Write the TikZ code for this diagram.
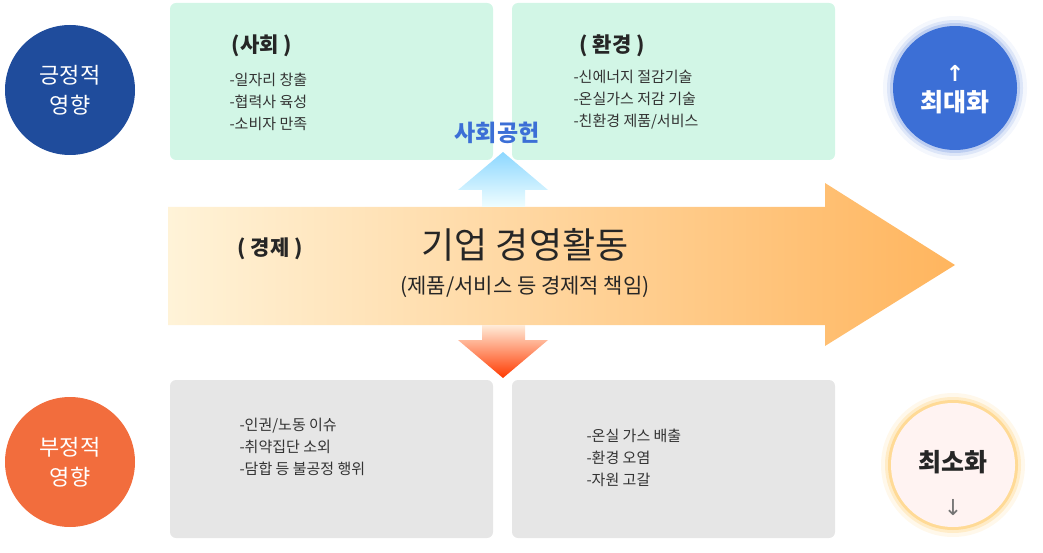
\documentclass[tikz,border=0pt]{standalone}
\usepackage{fontspec}
\setmainfont{Noto Sans CJK KR}
\newfontfamily\sym{DejaVu Sans}
\begin{document}
\begin{tikzpicture}[x=1pt,y=-1pt,
 cbox/.style={rounded corners=6pt},
 bl/.style={anchor=west,font=\fontsize{15}{22}\selectfont,text=black!80,align=left},
 hd/.style={font=\fontsize{21}{24}\selectfont\bfseries,text=black!85}]
\useasboundingbox (0,0) rectangle (1043,553);
\definecolor{dblue}{HTML}{1F4C9C}\definecolor{oran}{HTML}{F26D3D}
\definecolor{mint}{HTML}{D2F6E6}\definecolor{lgray}{HTML}{E6E6E6}
\definecolor{rblue}{HTML}{3C6FD6}\definecolor{ay}{HTML}{FFF3D8}\definecolor{ao}{HTML}{FFB55E}
% left circles
\node[circle,fill=dblue,minimum size=130pt,text=white,align=center,font=\fontsize{22}{30}\selectfont] (pos) at (70,90) {긍정적\\영향};
\node[circle,fill=oran,minimum size=130pt,text=white,align=center,font=\fontsize{22}{30}\selectfont] (neg) at (70,462) {부정적\\영향};
% boxes
\fill[mint,cbox] (170,3) rectangle (493,160);
\fill[mint,cbox] (512,3) rectangle (835,160);
\fill[lgray,cbox] (170,380) rectangle (493,538);
\fill[lgray,cbox] (512,380) rectangle (835,538);
\node[hd] (soc) at (262,46) {(사회 )};
\node[bl] (socl) at (226,102) {-일자리 창출\\-협력사 육성\\-소비자 만족};
\node[hd] (env) at (612,46) {( 환경 )};
\node[bl] (envl) at (570,100) {-신에너지 절감기술\\-온실가스 저감 기술\\-친환경 제품/서비스};
\node[bl] (nl) at (236,447) {-인권/노동 이슈\\-취약집단 소외\\-담합 등 불공정 행위};
\node[bl] (nr) at (583,458) {-온실 가스 배출\\-환경 오염\\-자원 고갈};
% big arrow
\shade[left color=ay,right color=ao]
 (168,207) -- (825,207) -- (825,183) -- (955,265) -- (825,346) -- (825,325) -- (168,325) -- cycle;
\shade[top color=blue!35!cyan!45,bottom color=blue!8!cyan!6]
 (503,152) -- (548,190) -- (525,190) -- (525,207) -- (482,207) -- (482,190) -- (458,190) -- cycle;
\shade[top color=orange!15,bottom color=red!55!orange]
 (482,325) -- (525,325) -- (525,340) -- (548,340) -- (503,378) -- (458,340) -- (482,340) -- cycle;
\node[font=\fontsize{23}{24}\selectfont\bfseries,text=rblue] (sc) at (497,133) {사회공헌};
\node[hd] (eco) at (270,249) {( 경제 )};
\node[font=\fontsize{36}{40}\selectfont,text=black!85] (main) at (525,245) {기업 경영활동};
\node[font=\fontsize{21}{24}\selectfont,text=black!85] (sub) at (525,287) {(제품/서비스 등 경제적 책임)};
% right circles
\foreach \r/\o in {72/0.06,68/0.12,65/0.2}{\fill[rblue,opacity=\o] (955,88) circle (\r);}
\fill[rblue] (955,88) circle (62);
\node[text=white,align=center,font=\fontsize{25}{30}\selectfont\bfseries] (mx) at (955,90) {{\sym\fontsize{22}{22}\selectfont↑}\\최대화};
\foreach \r/\o in {72/0.08,68/0.15,65/0.25}{\fill[orange!70!yellow,opacity=\o] (953,465) circle (\r);}
\fill[orange!8!red!5] (953,465) circle (62);
\node[font=\fontsize{25}{30}\selectfont\bfseries,text=black!85] (mn) at (953,462) {최소화};
\node[font=\sym\fontsize{22}{22}\selectfont,text=black!55] (dn) at (953,508) {↓};
\end{tikzpicture}
\end{document}
